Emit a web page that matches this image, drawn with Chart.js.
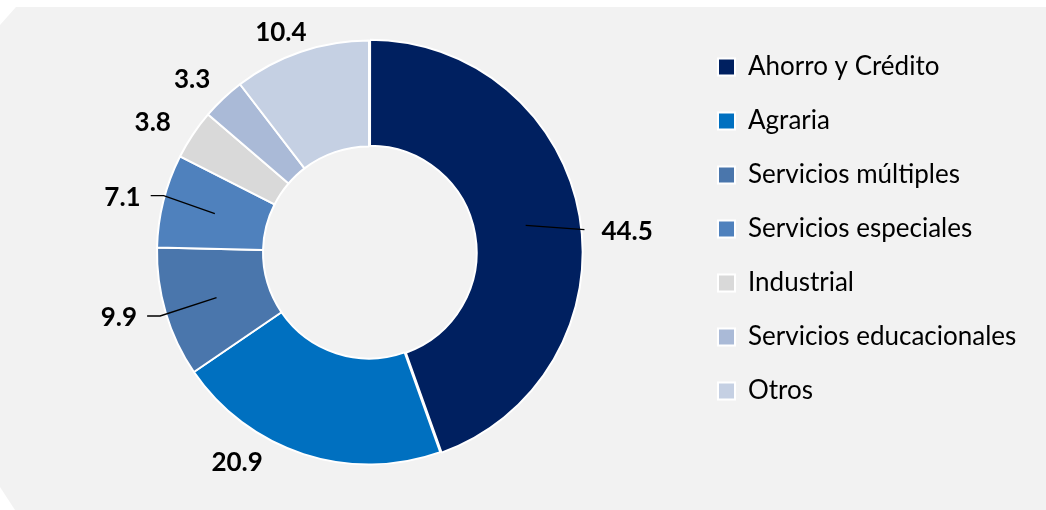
<!DOCTYPE html>
<html>
<head>
<meta charset="utf-8">
<script src="https://cdn.jsdelivr.net/npm/chart.js@4"></script>
<style>
    body { margin: 0; background: #fff; }
    #panel {
        position: absolute; left: 0; top: 0; width: 1046px; height: 510px;
        background: #f2f2f2;
        clip-path: polygon(16px 7px, 1046px 7px, 1046px 510px, 15px 510px, 0 487px, 0 25px);
    }
    #wrap { position: absolute; left: 0; top: 0; width: 1046px; height: 510px; }
</style>
</head>
<body>
<div id="panel"></div>
<div id="wrap"><canvas id="myChart"></canvas></div>
<script>
// tipos de cooperativa
var categorias = [
    'Ahorro y Crédito',
    'Agraria',
    'Servicios múltiples',
    'Servicios especiales',
    'Industrial',
    'Servicios educacionales',
    'Otros'
];
// participación (%)
var valores = [44.5, 20.9, 9.9, 7.1, 3.8, 3.3, 10.4];
var colores = ['#002060', '#0070c0', '#4a76ac', '#4f81bd', '#d9d9d9', '#aabad7', '#c5d0e3'];

// etiquetas: giro (grados) y distancia fuera del anillo, y si llevan línea guía
var etiquetaGiro = [5.2, 14.1, 1.8, -1.6, -2.7, -2.3, -3.1];
var etiquetaDist = [47, 36, 46.5, 40.5, 40.5, 35, 25];
var conGuia = [true, false, true, true, false, false, false];

var etiquetas = {
    id: 'etiquetas',
    afterDatasetsDraw: function (chart) {
        var c = chart.ctx;
        var arcs = chart.getDatasetMeta(0).data;
        c.save();
        c.font = 'bold 26px Lato';
        c.fillStyle = '#000';
        c.strokeStyle = '#000';
        c.lineWidth = 1.4;
        c.textAlign = 'center';
        c.textBaseline = 'middle';
        arcs.forEach(function (arc, i) {
            var p = arc.getProps(['x', 'y', 'startAngle', 'endAngle', 'innerRadius', 'outerRadius'], true);
            var mid = (p.startAngle + p.endAngle) / 2;
            var a = mid + etiquetaGiro[i] * Math.PI / 180;
            var r = p.outerRadius + etiquetaDist[i];
            var tx = p.x + Math.cos(a) * r;
            var ty = p.y + Math.sin(a) * r;
            var texto = valores[i].toFixed(1);
            if (conGuia[i]) {
                var w = c.measureText(texto).width;
                var rm = (p.innerRadius + p.outerRadius) / 2;
                c.beginPath();
                c.moveTo(p.x + Math.cos(mid) * rm, p.y + Math.sin(mid) * rm);
                if (tx > p.x) {
                    c.lineTo(tx - w / 2 - 17, ty - 2);
                } else {
                    c.lineTo(tx + w / 2 + 23, ty - 2);
                    c.lineTo(tx + w / 2 + 10, ty - 2);
                }
                c.stroke();
            }
            c.fillText(texto, tx, ty);
        });
        c.restore();
    }
};

var ctx = document.getElementById('myChart');
var dona = new Chart(ctx, {
    type: 'doughnut',
    data: {
        labels: categorias,
        datasets: [{
            data: valores,
            backgroundColor: colores,
            borderColor: '#ffffff',
            borderWidth: 2,
            offset: [4, 0, 0, 0, 0, 0, 0],
            radius: 212,
            cutout: '50%'
        }]
    },
    options: {
        responsive: true,
        maintainAspectRatio: false,
        animation: false,
        layout: {
            padding: { left: 48, top: 26, bottom: 31, right: 20 }
        },
        plugins: {
            legend: {
                position: 'right',
                align: 'start',
                labels: {
                    boxWidth: 17,
                    boxHeight: 17,
                    padding: 28,
                    color: '#000',
                    font: { family: 'Lato', size: 26 }
                }
            },
            tooltip: { enabled: false }
        }
    },
    plugins: [etiquetas]
});

// llevar la leyenda a x = 690 para que la dona quede centrada en 369
dona.options.layout.padding.right += dona.legend.left - 690;
dona.update();
</script>
</body>
</html>
